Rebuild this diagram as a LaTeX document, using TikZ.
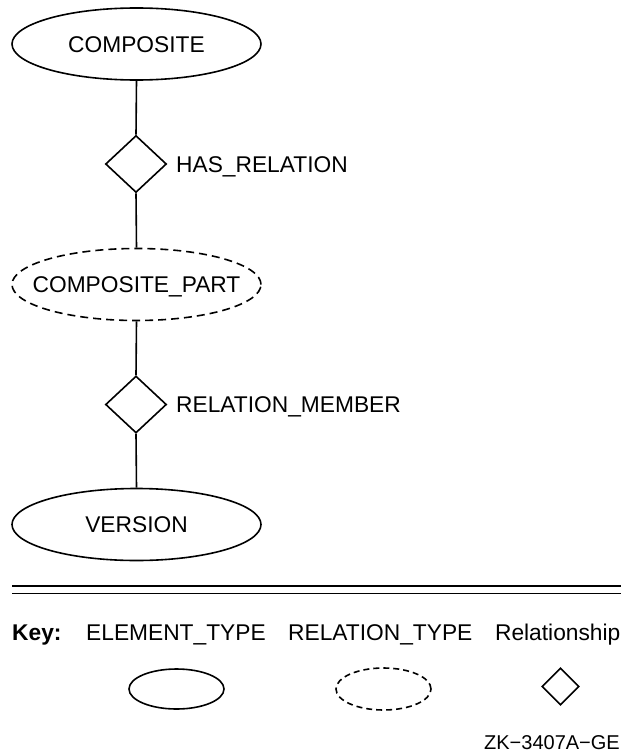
\documentclass[tikz,border=0pt]{standalone}
\usepackage{fontspec}
\setmainfont{Liberation Sans}
\usetikzlibrary{shapes.geometric}

\tikzset{
  lbl/.style={font=\fontsize{22.75}{27}\selectfont, inner sep=0pt},
  elemtype/.style={ellipse, draw, line width=1.6pt, inner sep=0pt,
    minimum width=249pt, minimum height=72pt,
    font=\fontsize{22.75}{27}\selectfont, text height=16.3pt, text depth=0pt},
  reltype/.style={elemtype, dash pattern=on 8pt off 5pt},
  relship/.style={diamond, draw, line width=1.6pt, inner sep=0pt,
    minimum width=61pt, minimum height=57pt},
  link/.style={line width=1.6pt},
}

\begin{document}
\begin{tikzpicture}[x=1pt,y=-1pt]
  \useasboundingbox (0,0) rectangle (621,752);

  % schema chain
  \node[elemtype] (composite) at (136.5,44) {\makebox[0pt]{COMPOSITE}};
  \node[relship]  (hasrel)    at (136,164) {};
  \node[reltype]  (cpart)     at (136.5,284.5) {\makebox[0pt]{COMPOSITE\_PART}};
  \node[relship]  (relmem)    at (136,404.5) {};
  \node[elemtype] (version)   at (136.5,524.5) {\makebox[0pt]{VERSION}};

  \node[lbl, anchor=base west] (hasrellbl) at (176,172.2) {HAS\_RELATION};
  \node[lbl, anchor=base west] (relmemlbl) at (176,412.4) {RELATION\_MEMBER};

  \draw[link] (composite.south) -- (hasrel.north);
  \draw[link] (hasrel.south) -- (cpart.north);
  \draw[link] (cpart.south) -- (relmem.north);
  \draw[link] (relmem.south) -- (version.north);

  % separator
  \coordinate (sepL1) at (12,586);
  \coordinate (sepR1) at (621,586);
  \coordinate (sepL2) at (12,593.5);
  \coordinate (sepR2) at (621,593.5);
  \draw[line width=2.2pt] (sepL1) -- (sepR1);
  \draw[line width=1.8pt] (sepL2) -- (sepR2);

  % key
  \node[lbl, anchor=base west, font=\fontsize{22.75}{27}\bfseries] (keyhd) at (12,640.2) {Key:};
  \node[lbl, anchor=base west] (keyelem) at (86,640.2) {ELEMENT\_TYPE};
  \node[lbl, anchor=base west] (keyrel)  at (288,640.2) {RELATION\_TYPE};
  \node[lbl, anchor=base east] (keyship) at (620.5,640.2) {Relationship};

  \node[ellipse, draw, line width=1.6pt, inner sep=0pt,
        minimum width=95pt, minimum height=40pt] (keyellipse) at (176.5,689) {};
  \node[ellipse, draw, line width=1.6pt, inner sep=0pt, dash pattern=on 6pt off 4pt,
        minimum width=95pt, minimum height=42pt] (keydashed) at (383.5,689) {};
  \node[diamond, draw, line width=1.6pt, inner sep=0pt,
        minimum width=37pt, minimum height=37pt] (keydiamond) at (560.5,686.5) {};

  \node[inner sep=0pt, anchor=base east, font=\fontsize{20}{24}\selectfont] (figid) at (620,749.2) {ZK−3407A−GE};
\end{tikzpicture}
\end{document}
